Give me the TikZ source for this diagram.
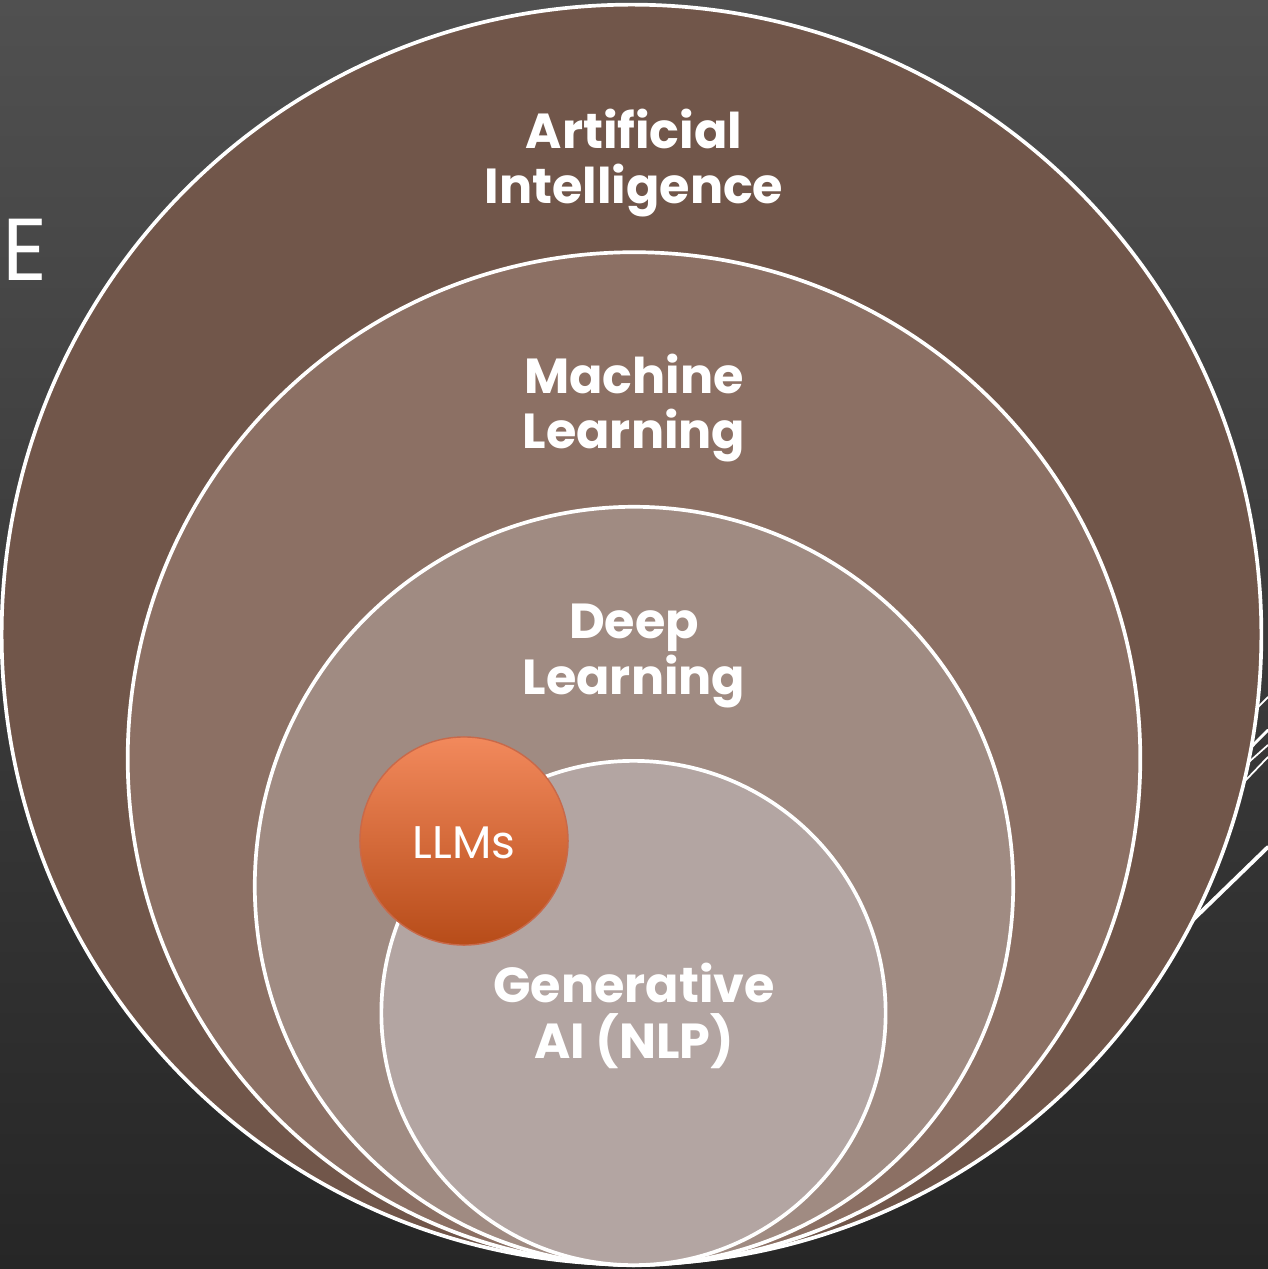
\documentclass[tikz,border=0pt]{standalone}
\usepackage{fontspec}
\setmainfont{Poppins}
\definecolor{bgtop}{HTML}{505050}
\definecolor{bgbot}{HTML}{262626}
\definecolor{aicol}{HTML}{71564A}
\definecolor{mlcol}{HTML}{8C7064}
\definecolor{dlcol}{HTML}{A08B82}
\definecolor{gencol}{HTML}{B3A5A2}
\definecolor{llmtop}{HTML}{F2895C}
\definecolor{llmbot}{HTML}{B74C19}
\definecolor{llmedge}{HTML}{C8694A}
\begin{document}
\begin{tikzpicture}[x=0.01cm,y=-0.01cm,
  ring/.style={circle, draw=white, line width=1.05pt, inner sep=0pt, outer sep=0pt},
  lbl/.style={text=white, align=center, font=\fontsize{14pt}{15.7pt}\selectfont\bfseries, inner sep=0pt},
  deco/.style={draw=white, line cap=round}]
\shade[top color=bgtop, bottom color=bgbot] (0,0) rectangle (1268,1269);
\useasboundingbox (0,0) rectangle (1268,1269);
% decorative background lines
\draw[deco, line width=0.5pt] (1268,697) -- (1150,815);
\draw[deco, line width=0.8pt] (1268,730) -- (1150,850);
\draw[deco, line width=0.5pt] (1268,745) -- (1150,850);
\draw[deco, line width=0.5pt] (1268,757) -- (1150,880);
\draw[deco, line width=1.1pt] (1268,847) -- (1100,1010);
% nested circles
\node[ring, fill=aicol, minimum size=12.59cm] (ai) at (631.5,634.5) {};
\node[ring, fill=mlcol, minimum size=10.12cm] (ml) at (634,758.5) {};
\node[ring, fill=dlcol, minimum size=7.58cm] (dl) at (634,886) {};
\node[ring, fill=gencol, minimum size=5.04cm] (gen) at (633.5,1013) {};
\node[circle, draw=llmedge, line width=0.4pt, top color=llmtop, bottom color=llmbot, minimum size=2.08cm, inner sep=0pt] (llm) at (464,841) {};
% labels
\node[lbl] (ait) at (634,163) {Artificial\\Intelligence};
\node[lbl] (mlt) at (634,408) {Machine\\Learning};
\node[lbl] (dlt) at (634,656) {Deep\\Learning};
\node[lbl] (gent) at (634,1016) {Generative\\AI (NLP)};
\node[text=white, font=\fontsize{13pt}{14pt}\selectfont, inner sep=0pt] (llmt) at (464,843) {LLMs};
\node[text=white, font=\fontsize{25pt}{26pt}\selectfont, inner sep=0pt, anchor=base west] (e) at (2,280) {E};
\end{tikzpicture}
\end{document}
